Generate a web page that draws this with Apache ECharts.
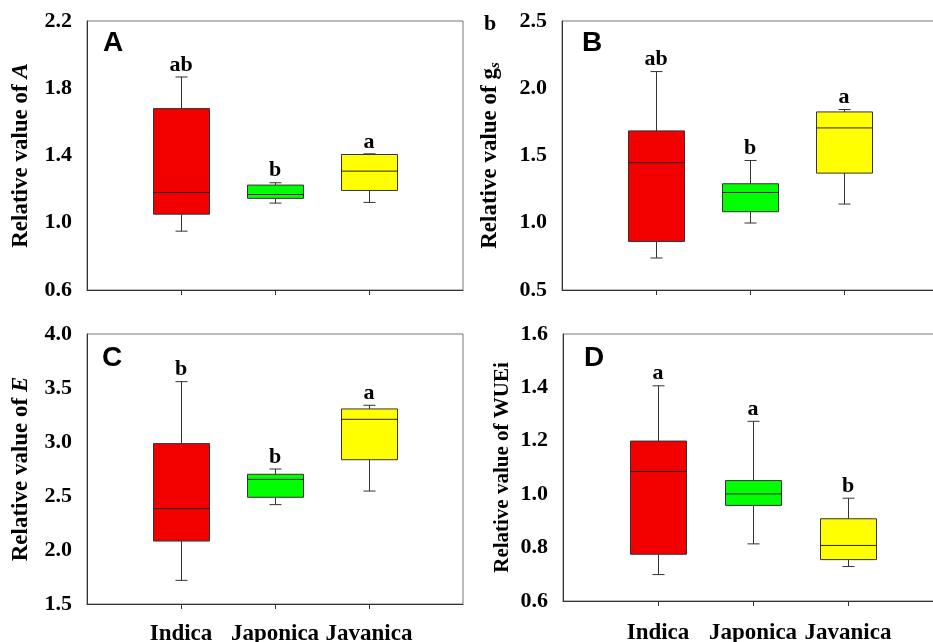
<!DOCTYPE html>
<html>
<head>
<meta charset="utf-8">
<script src="https://cdn.jsdelivr.net/npm/echarts@6/dist/echarts.min.js"></script>
<style>html,body{margin:0;padding:0;background:#fff}#c{width:933px;height:642px}</style>
</head>
<body>
<div id="c"></div>
<script>
// ---- data ----
const categories = ['Indica', 'Japonica', 'Javanica'];
// each box: [min, Q1, median, Q3, max]
const statsA = [[0.950, 1.051, 1.180, 1.679, 1.867], [1.117, 1.145, 1.168, 1.224, 1.238], [1.121, 1.192, 1.307, 1.406, 1.410]];
const statsB = [[0.738, 0.861, 1.446, 1.683, 2.124], [0.998, 1.082, 1.225, 1.290, 1.463], [1.139, 1.369, 1.705, 1.824, 1.842]];
const statsC = [[1.719, 2.083, 2.383, 2.985, 3.559], [2.420, 2.488, 2.654, 2.701, 2.750], [2.546, 2.836, 3.210, 3.306, 3.340]];
const statsD = [[0.699, 0.775, 1.085, 1.199, 1.406], [0.814, 0.958, 1.001, 1.051, 1.273], [0.729, 0.755, 0.808, 0.908, 0.985]];
const lettersA = ['ab', 'b', 'a'];
const lettersB = ['ab', 'b', 'a'];
const lettersC = ['b', 'b', 'a'];
const lettersD = ['a', 'a', 'b'];
const yTicksA = [0.6, 2.2, 0.4];
const yTicksB = [0.5, 2.5, 0.5];
const yTicksC = [1.5, 4.0, 0.5];
const yTicksD = [0.6, 1.6, 0.2];
const panelLetters = ['A', 'B', 'C', 'D'];

// ---- chart ----
const boxColors = ['#f20000', '#00ff00', '#ffff00'];
const serif = '"Liberation Serif", "Times New Roman", serif';
const chart = echarts.init(document.getElementById('c'), null, {renderer: 'canvas'});

const panels = [
  {stats: statsA, letters: lettersA, ticks: yTicksA, name: 'Relative value of {i|A}', nameGap: 54, nameSize: 23, showX: false},
  {stats: statsB, letters: lettersB, ticks: yTicksB, name: 'Relative value of g{sub|s}', nameGap: 59, nameSize: 23, showX: false},
  {stats: statsC, letters: lettersC, ticks: yTicksC, name: 'Relative value of {i|E}', nameGap: 54, nameSize: 23, showX: true},
  {stats: statsD, letters: lettersD, ticks: yTicksD, name: 'Relative value of WUEi', nameGap: 50, nameSize: 21, showX: true}
];

const grids = [
  {left: 87, top: 21, width: 376, height: 269},
  {left: 562, top: 21, width: 376, height: 269},
  {left: 87, top: 334, width: 376, height: 270},
  {left: 563, top: 334, width: 380, height: 267}
].map(g => Object.assign({show: true, borderColor: '#777', borderWidth: 1, backgroundColor: 'transparent',
  containLabel: false, outerBoundsMode: 'none'}, g));

const xAxes = panels.map((p, i) => ({
  type: 'value', gridIndex: i, min: 0, max: 4, interval: 1,
  axisLine: {show: true, lineStyle: {color: '#333', width: 1}},
  axisTick: {show: true, length: 5, customValues: [1, 2, 3], lineStyle: {color: '#333'}},
  axisLabel: {show: p.showX, customValues: [1, 2, 3], margin: i === 3 ? 21 : 19,
    formatter: v => categories[Math.round(v) - 1] || '',
    fontFamily: serif, fontWeight: 'bold', fontSize: 23, color: '#000'},
  splitLine: {show: false}
}));

const yAxes = panels.map((p, i) => ({
  type: 'value', gridIndex: i, min: p.ticks[0], max: p.ticks[1], interval: p.ticks[2],
  axisLine: {show: true, lineStyle: {color: '#333', width: 1}},
  axisTick: {show: false},
  axisLabel: {margin: 15, formatter: v => v.toFixed(1), fontFamily: serif, fontWeight: 'bold', fontSize: 22, color: '#000'},
  splitLine: {show: false},
  name: p.name, nameLocation: 'middle', nameGap: p.nameGap, nameRotate: 90,
  nameTextStyle: {fontFamily: serif, fontWeight: 'bold', fontSize: p.nameSize, color: '#000',
    rich: {
      i: {fontFamily: serif, fontWeight: 'bold', fontStyle: 'italic', fontSize: p.nameSize, color: '#000'},
      sub: {fontFamily: serif, fontWeight: 'bold', fontStyle: 'italic', fontSize: 15, color: '#000', verticalAlign: 'bottom', padding: [10, 0, 0, 0]}
    }}
}));

function renderBox(params, api) {
  const x = api.value(0);
  const idx = Math.round(x) - 1;
  const lo = api.coord([x, api.value(1)]);
  const q1 = api.coord([x, api.value(2)]);
  const md = api.coord([x, api.value(3)]);
  const q3 = api.coord([x, api.value(4)]);
  const hi = api.coord([x, api.value(5)]);
  const cx = Math.round(lo[0]) + 0.5;
  const hw = 28, cw = 6;
  const ls = {stroke: '#333', lineWidth: 1};
  return {
    type: 'group',
    children: [
      {type: 'line', shape: {x1: cx, y1: hi[1], x2: cx, y2: q3[1]}, style: ls},
      {type: 'line', shape: {x1: cx, y1: q1[1], x2: cx, y2: lo[1]}, style: ls},
      {type: 'line', shape: {x1: cx - cw, y1: hi[1], x2: cx + cw, y2: hi[1]}, style: ls},
      {type: 'line', shape: {x1: cx - cw, y1: lo[1], x2: cx + cw, y2: lo[1]}, style: ls},
      {type: 'rect', shape: {x: cx - hw, y: q3[1], width: 2 * hw, height: q1[1] - q3[1]},
        style: {fill: boxColors[idx], stroke: '#333', lineWidth: 1}},
      {type: 'line', shape: {x1: cx - hw, y1: md[1], x2: cx + hw, y2: md[1]}, style: {stroke: '#222', lineWidth: 1}}
    ]
  };
}

const series = [];
panels.forEach((p, i) => {
  series.push({
    type: 'custom', xAxisIndex: i, yAxisIndex: i, renderItem: renderBox,
    encode: {x: 0, y: [1, 2, 3, 4, 5]},
    data: p.stats.map((s, k) => [k + 1].concat(s)),
    silent: true
  });
  series.push({
    type: 'scatter', xAxisIndex: i, yAxisIndex: i, symbolSize: 0, silent: true,
    itemStyle: {opacity: 1},
    data: p.stats.map((s, k) => [k + 1, s[4]]),
    label: {show: true, position: 'top', distance: 1,
      formatter: d => p.letters[d.dataIndex],
      fontFamily: serif, fontWeight: 'bold', fontSize: 22, color: '#000', opacity: 1}
  });
});

const letterPos = [[103, 43], [582, 43], [102, 358], [584, 358]];
const graphic = panelLetters.map((t, i) => ({
  type: 'text', left: letterPos[i][0], top: letterPos[i][1] - 14,
  style: {text: t, font: 'bold 28px "Liberation Sans", Arial, sans-serif', fill: '#000'}
}));
graphic.push({type: 'text', left: 484, top: 13,
  style: {text: 'b', font: 'bold 22px "Liberation Serif", "Times New Roman", serif', fill: '#000'}});

chart.setOption({
  animation: false,
  backgroundColor: '#fff',
  grid: grids, xAxis: xAxes, yAxis: yAxes, series: series, graphic: graphic
});
</script>
</body>
</html>
